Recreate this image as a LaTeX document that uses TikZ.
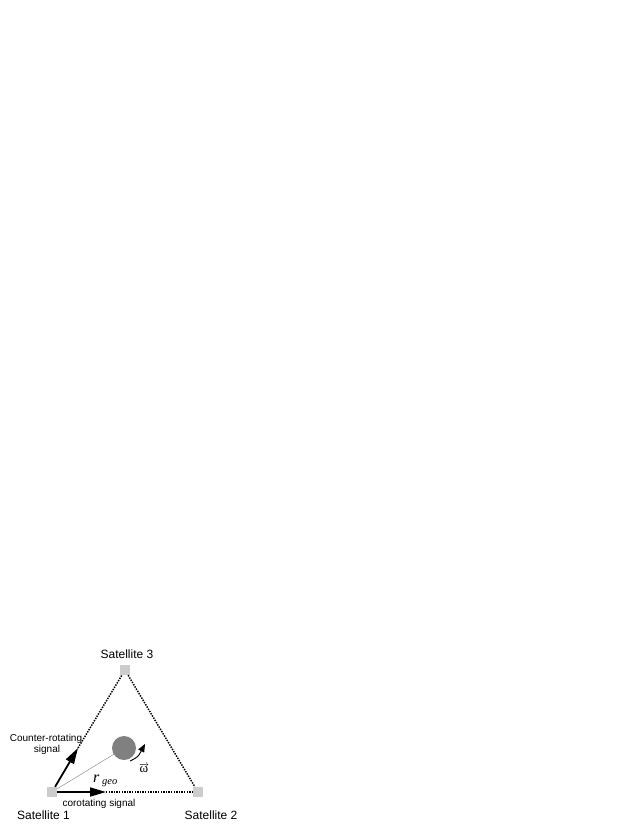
\documentclass[tikz,border=0pt]{standalone}
\usepackage{fontspec}
\setmainfont{Liberation Sans}
\newfontfamily\timesfont{Liberation Serif}
\usetikzlibrary{arrows.meta}
\definecolor{satgray}{gray}{0.8}
\definecolor{earthgray}{gray}{0.5}
\tikzset{
  sig/.style={line width=1.8pt, -{Triangle[length=16pt,width=9pt]}},
  link/.style={line width=1.5pt, dash pattern=on 1.4pt off 1.2pt},
  lbl/.style={anchor=base, inner sep=0pt, font=\fontsize{10}{12}\selectfont},
  satlbl/.style={anchor=base, inner sep=0pt, font=\fontsize{12}{14}\selectfont}
}
\begin{document}
\begin{tikzpicture}[x=1pt,y=-1pt]
  \useasboundingbox (0,0) rectangle (638,825);

  \begin{scope}[every node/.style={rectangle, fill=satgray, minimum size=10pt, inner sep=0pt}]
    \node (s1) at (52,792)  {};
    \node (s2) at (198,792) {};
    \node (s3) at (125,670) {};
  \end{scope}

  \coordinate (co)  at (106,792);
  \coordinate (ccw) at (78,748);
  \coordinate (w1)  at (130,761);
  \coordinate (w2)  at (145,744);

  % line of sight to the centre
  \draw[gray, line width=0.4pt] (s1) -- (124,748);
  \node[circle, fill=earthgray, minimum size=24pt, inner sep=0pt] (earth) at (124,748) {};

  % arms of the triangle
  \draw[link] (co)  -- (s2);
  \draw[link] (ccw) -- (s3);
  \draw[link] (s3)  -- (s2);

  % signals
  \draw[sig] (s1) -- (co);
  \draw[sig] (s1) -- (ccw);

  % rotation
  \draw[line width=0.9pt, -{Triangle[length=8pt,width=6.5pt]}] (w1) .. controls (138,757) .. (w2);
  \node[inner sep=0pt] (omega) at (144,768)
    {$\overrightarrow{\hbox{\timesfont\fontsize{13}{15}\selectfont ω}}$};

  \node[anchor=base west, inner sep=0pt] (rgeo) at (93,782)
    {\timesfont\itshape\fontsize{16}{18}\selectfont r\,\raisebox{-2.5pt}{\fontsize{10.5}{12}\selectfont geo}};

  \begin{scope}[every node/.style={satlbl}]
    \node (l1) at (43.5,819) {Satellite 1};
    \node (l2) at (211,819)  {Satellite 2};
    \node (l3) at (127,658)  {Satellite 3};
  \end{scope}

  \node[lbl] (ccwa) at (46,741) {Counter-rotating};
  \node[lbl] (ccwb) at (47,752) {signal};
  \node[lbl] (coa)  at (99,806) {corotating signal};
\end{tikzpicture}
\end{document}
